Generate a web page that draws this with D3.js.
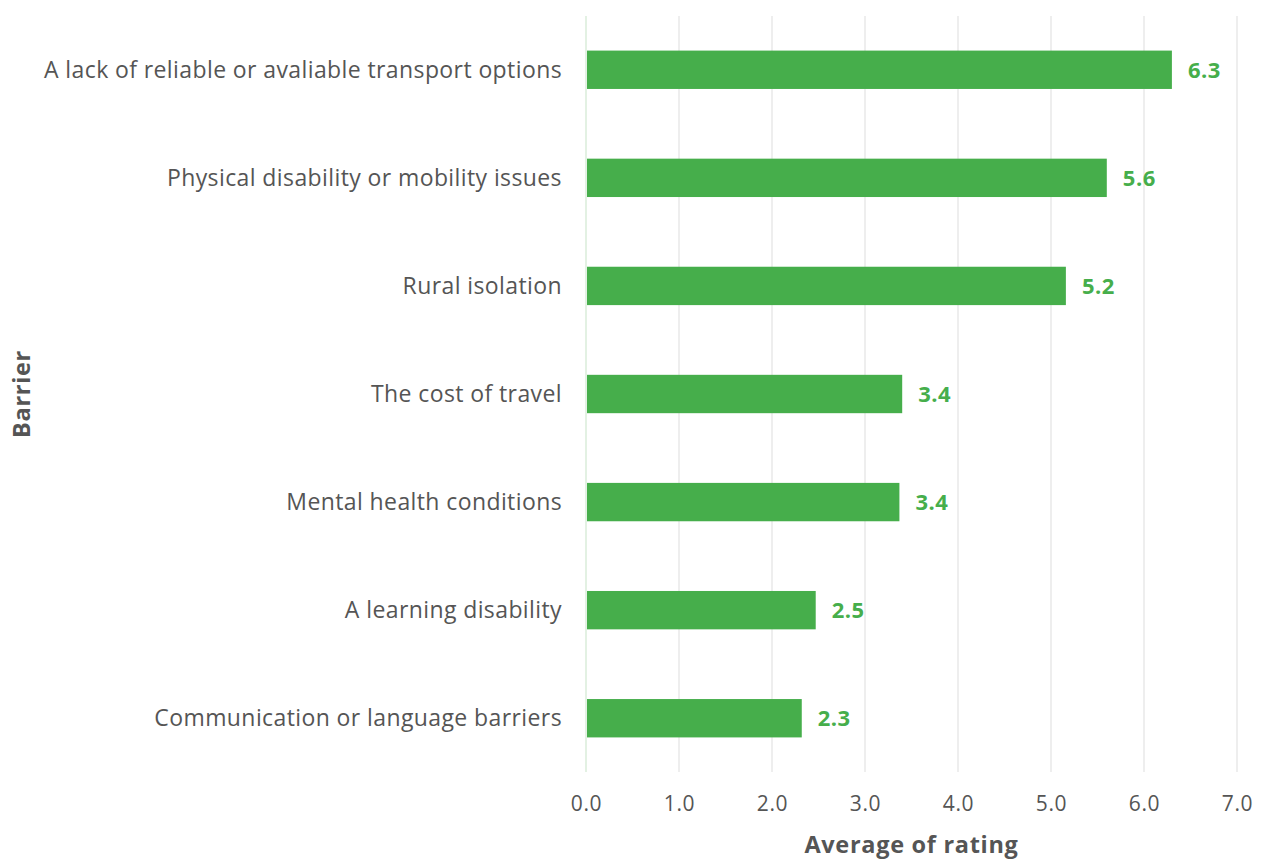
<!DOCTYPE html>
<html>
<head>
<meta charset="utf-8">
<script src="https://cdn.jsdelivr.net/npm/d3@7"></script>
<style>
  html, body { margin: 0; padding: 0; background: #fff; }
  svg { display: block; font-family: "Open Sans", "Lato", sans-serif; }
</style>
</head>
<body>
<svg id="chart" width="1261" height="860"></svg>
<script>
// Barriers to travel, ranked by average rating
const categories = [
  "A lack of reliable or avaliable transport options",
  "Physical disability or mobility issues",
  "Rural isolation",
  "The cost of travel",
  "Mental health conditions",
  "A learning disability",
  "Communication or language barriers"
];
const ratings = [6.3, 5.6, 5.16, 3.4, 3.37, 2.47, 2.32];
const xTicks = [0, 1, 2, 3, 4, 5, 6, 7];

const xTitle = "Average of rating";
const yTitle = "Barrier";

const barColor = "#46ae4b";
const textColor = "#555555";
const fontFamily = "'Open Sans', Lato, sans-serif";

const svg = d3.select("#chart");
const margin = { top: 16, right: 24, bottom: 88, left: 586 };
const width = 1261 - margin.left - margin.right;
const height = 860 - margin.top - margin.bottom;

const x = d3.scaleLinear().domain([0, 7]).range([0, width]);
const y = d3.scaleBand().domain(categories).range([0, height]).paddingInner(0.645).paddingOuter(0.32);

const g = svg.append("g").attr("transform", `translate(${margin.left},${margin.top})`);

// vertical gridlines
g.append("g")
  .selectAll("line")
  .data(xTicks)
  .join("line")
  .attr("x1", d => x(d)).attr("x2", d => x(d))
  .attr("y1", 0).attr("y2", height)
  .attr("stroke", d => d === 0 ? "#e3f1e3" : "#eeeeee")
  .attr("stroke-width", 2);

// bars
const rows = categories.map((c, i) => ({ c, v: ratings[i] }));
g.append("g")
  .selectAll("rect")
  .data(rows)
  .join("rect")
  .attr("x", x(0) + 1)
  .attr("y", d => y(d.c))
  .attr("width", d => x(d.v) - x(0) - 1)
  .attr("height", y.bandwidth())
  .attr("fill", barColor);

// value labels
g.append("g")
  .selectAll("text")
  .data(rows)
  .join("text")
  .attr("x", d => x(d.v) + 16)
  .attr("y", d => y(d.c) + y.bandwidth() / 2)
  .attr("dy", "0.36em")
  .attr("fill", barColor)
  .attr("font-size", 22)
  .attr("font-weight", 700)
  .attr("letter-spacing", 0.5)
  .text(d => d3.format(".1f")(d.v));

// category axis
const yAxis = g.append("g")
  .call(d3.axisLeft(y).tickSize(0).tickPadding(24));
yAxis.select(".domain").remove();
yAxis.selectAll("text")
  .attr("fill", textColor)
  .attr("font-size", 23)
  .attr("letter-spacing", 0.4)
  .attr("dy", "0.34em")
  .attr("font-family", fontFamily);

// value axis
const xAxis = g.append("g")
  .attr("transform", `translate(0,${height})`)
  .call(d3.axisBottom(x).tickValues(xTicks).tickFormat(d3.format(".1f")).tickSize(0).tickPadding(24));
xAxis.select(".domain").remove();
xAxis.selectAll("text")
  .attr("fill", textColor)
  .attr("font-size", 21)
  .attr("letter-spacing", 0.6)
  .attr("font-family", fontFamily);

// axis titles
svg.append("text")
  .attr("x", margin.left + width / 2)
  .attr("y", 853)
  .attr("text-anchor", "middle")
  .attr("fill", textColor)
  .attr("font-size", 23.5)
  .attr("font-weight", 700)
  .attr("letter-spacing", 0.7)
  .text(xTitle);

svg.append("text")
  .attr("transform", `translate(30,${margin.top + height / 2}) rotate(-90)`)
  .attr("text-anchor", "middle")
  .attr("fill", textColor)
  .attr("font-size", 23.5)
  .attr("font-weight", 700)
  .attr("letter-spacing", 0.7)
  .text(yTitle);
</script>
</body>
</html>
